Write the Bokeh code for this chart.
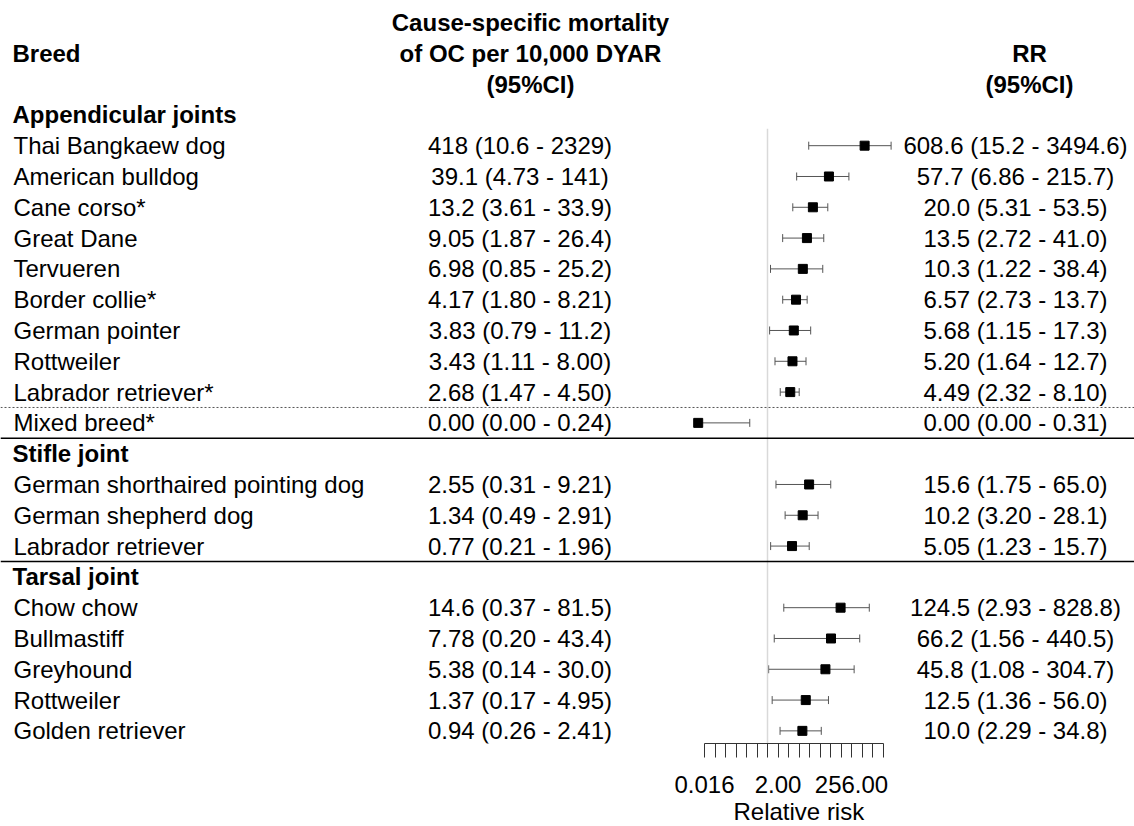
import numpy as np
from bokeh.plotting import figure
from bokeh.models import (Range1d, LogScale, LogAxis, FixedTicker, Whisker, TeeHead,
                          ColumnDataSource, Span, Title)
from bokeh.core.properties import value
from bokeh.embed import file_html
from bokeh.resources import INLINE

# ---------------- data ----------------
group_names = ["Appendicular joints", "Stifle joint", "Tarsal joint"]
group_sizes = [10, 3, 5]

breeds = ["Thai Bangkaew dog", "American bulldog", "Cane corso*", "Great Dane", "Tervueren",
          "Border collie*", "German pointer", "Rottweiler", "Labrador retriever*", "Mixed breed*",
          "German shorthaired pointing dog", "German shepherd dog", "Labrador retriever",
          "Chow chow", "Bullmastiff", "Greyhound", "Rottweiler", "Golden retriever"]

mortality_label = ["418 (10.6 - 2329)", "39.1 (4.73 - 141)", "13.2 (3.61 - 33.9)",
                   "9.05 (1.87 - 26.4)", "6.98 (0.85 - 25.2)", "4.17 (1.80 - 8.21)",
                   "3.83 (0.79 - 11.2)", "3.43 (1.11 - 8.00)", "2.68 (1.47 - 4.50)",
                   "0.00 (0.00 - 0.24)",
                   "2.55 (0.31 - 9.21)", "1.34 (0.49 - 2.91)", "0.77 (0.21 - 1.96)",
                   "14.6 (0.37 - 81.5)", "7.78 (0.20 - 43.4)", "5.38 (0.14 - 30.0)",
                   "1.37 (0.17 - 4.95)", "0.94 (0.26 - 2.41)"]

rr = [608.6, 57.7, 20.0, 13.5, 10.3, 6.57, 5.68, 5.20, 4.49, 0.00,
      15.6, 10.2, 5.05,
      124.5, 66.2, 45.8, 12.5, 10.0]
rr_lo = [15.2, 6.86, 5.31, 2.72, 1.22, 2.73, 1.15, 1.64, 2.32, 0.00,
         1.75, 3.20, 1.23,
         2.93, 1.56, 1.08, 1.36, 2.29]
rr_hi = [3494.6, 215.7, 53.5, 41.0, 38.4, 13.7, 17.3, 12.7, 8.10, 0.31,
         65.0, 28.1, 15.7,
         828.8, 440.5, 304.7, 56.0, 34.8]
rr_label = ["608.6 (15.2 - 3494.6)", "57.7 (6.86 - 215.7)", "20.0 (5.31 - 53.5)",
            "13.5 (2.72 - 41.0)", "10.3 (1.22 - 38.4)", "6.57 (2.73 - 13.7)",
            "5.68 (1.15 - 17.3)", "5.20 (1.64 - 12.7)", "4.49 (2.32 - 8.10)",
            "0.00 (0.00 - 0.31)",
            "15.6 (1.75 - 65.0)", "10.2 (3.20 - 28.1)", "5.05 (1.23 - 15.7)",
            "124.5 (2.93 - 828.8)", "66.2 (1.56 - 440.5)", "45.8 (1.08 - 304.7)",
            "12.5 (1.36 - 56.0)", "10.0 (2.29 - 34.8)"]

axis_ticks = [2.0 ** k for k in range(-6, 12)]
axis_tick_labels = {2.0 ** -6: "0.016", 2.0: "2.00", 256.0: "256.00"}
axis_title = "Relative risk"

# ---------------- layout helpers ----------------
FONT = value("Liberation Sans")
FS = "24px"
ZERO_FLOOR = 2.0 ** -6.6          # display position for zero on the log axis

# row indices (rows 0..2 are header lines)
group_rows = []
breed_rows = []
r = 3
for size in group_sizes:
    group_rows.append(r)
    r += 1
    for _ in range(size):
        breed_rows.append(r)
        r += 1

W, H = 1134, 826
Y_BOT, Y_TOP = 23.41, -0.714
p = figure(width=W, height=H, x_range=Range1d(0, W),
           y_range=Range1d(Y_BOT, Y_TOP),
           output_backend="svg", toolbar_location=None,
           x_axis_location=None, y_axis_location=None, min_border=0,
           min_border_bottom=83,
           outline_line_color=None, background_fill_color="white",
           border_fill_color="white")
p.xgrid.visible = False
p.ygrid.visible = False

# log scale for the forest panel (RR = 1 at x = 767 px, 10.5 px per doubling)
X_ONE, PX_PER_DOUBLING = 767.0, 10.5
p.extra_x_ranges = {"rr": Range1d(2.0 ** ((0 - X_ONE) / PX_PER_DOUBLING),
                                  2.0 ** ((W - X_ONE) / PX_PER_DOUBLING))}
p.extra_x_scales = {"rr": LogScale()}

# header
hdr_kw = dict(text_font=FONT, text_font_size=FS, text_font_style="bold",
              text_baseline="middle", text_color="black")
p.text(x=[12], y=[1], text=["Breed"], text_align="left", **hdr_kw)
p.text(x=[530, 530, 530], y=[0, 1, 2],
       text=["Cause-specific mortality", "of OC per 10,000 DYAR", "(95%CI)"],
       text_align="center", **hdr_kw)
p.text(x=[1029, 1029], y=[1, 2], text=["RR", "(95%CI)"], text_align="center", **hdr_kw)

# group labels
p.text(x=[12] * len(group_names), y=group_rows, text=group_names, text_align="left", **hdr_kw)

# body text
body_kw = dict(text_font=FONT, text_font_size=FS, text_baseline="middle", text_color="black")
p.text(x=[13] * len(breeds), y=breed_rows, text=breeds, text_align="left", **body_kw)
p.text(x=[519.5] * len(breeds), y=breed_rows, text=mortality_label, text_align="center", **body_kw)
p.text(x=[1015] * len(breeds), y=breed_rows, text=rr_label, text_align="center", **body_kw)

# separator lines
g1_end = breed_rows[group_sizes[0] - 1]
p.add_layout(Span(location=g1_end - 0.5, dimension="width", line_color="#555555",
                  line_dash="2 2", line_width=1))
p.add_layout(Span(location=g1_end + 0.5, dimension="width", line_color="black", line_width=1.5))
g2_end = breed_rows[group_sizes[0] + group_sizes[1] - 1]
p.add_layout(Span(location=g2_end + 0.5, dimension="width", line_color="black", line_width=1.5))

# reference line at RR = 1
p.segment(x0=[1.0], x1=[1.0], y0=[group_rows[0] + 0.45], y1=[Y_BOT],
          line_color="#d9d9d9", line_width=1.5, x_range_name="rr")

# forest
rr_arr = np.array(rr)
src = ColumnDataSource(dict(
    y=breed_rows,
    est=np.maximum(rr_arr, ZERO_FLOOR),
    lo=np.maximum(np.array(rr_lo), ZERO_FLOOR),
    hi=np.array(rr_hi),
))
wh = Whisker(source=src, base="y", lower="lo", upper="hi", dimension="width",
             line_color="#555555", line_width=1,
             lower_head=TeeHead(size=8, line_color="#555555", line_width=1),
             upper_head=TeeHead(size=8, line_color="#555555", line_width=1))
wh.x_range_name = "rr"
p.add_layout(wh)
p.scatter(x="est", y="y", source=src, marker="square", size=9,
          fill_color="black", line_color="black", x_range_name="rr")

# axis
ax = LogAxis(x_range_name="rr", bounds=(axis_ticks[0], axis_ticks[-1]),
             ticker=FixedTicker(ticks=axis_ticks, minor_ticks=[]))
ax.major_label_overrides = {t: axis_tick_labels.get(t, "") for t in axis_ticks}
ax.axis_line_color = "#333333"
ax.major_tick_line_color = "#333333"
ax.minor_tick_line_color = None
ax.major_tick_out = 14
ax.major_tick_in = 0
ax.major_label_standoff = 18
ax.major_label_text_font = "Liberation Sans"
ax.major_label_text_font_size = FS
ax.major_label_text_color = "black"
p.add_layout(ax, "below")

# axis title, placed under the forest panel
p.add_layout(Title(text=axis_title, align="left", offset=733, standoff=0,
                   text_font="Liberation Sans", text_font_size=FS,
                   text_font_style="normal", text_color="black"), "below")

open("out.html", "w").write(file_html(p, INLINE))
